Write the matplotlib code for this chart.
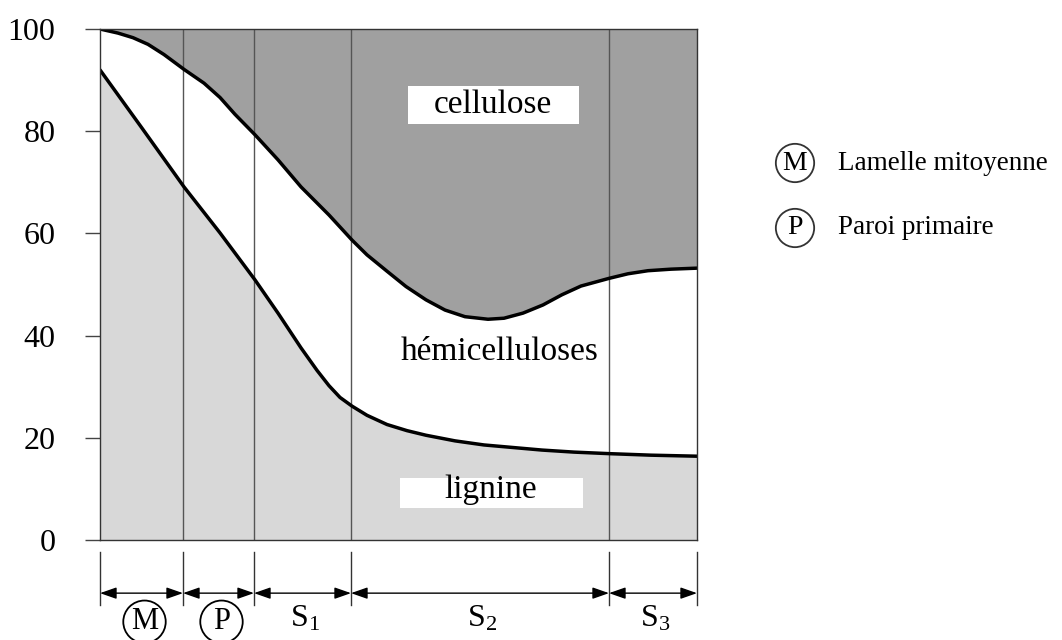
import matplotlib
matplotlib.use("Agg")
import matplotlib.pyplot as plt
from matplotlib.patches import Rectangle
from matplotlib.transforms import blended_transform_factory

plt.rcParams['font.family'] = ['Liberation Serif', 'DejaVu Serif']
plt.rcParams['mathtext.fontset'] = 'custom'
plt.rcParams['mathtext.rm'] = 'Liberation Serif'
plt.rcParams['mathtext.it'] = 'Liberation Serif:italic'

# Layer boundaries along the cell wall (arbitrary distance units)
boundaries = [0, 83, 154, 251, 509, 597]
layer_labels = ["M", "P", "S$_\\mathrm{1}$", "S$_\\mathrm{2}$", "S$_\\mathrm{3}$"]
circled = [True, True, False, False, False]

# Upper curve: lignine + hémicelluloses (top of white band)
upper_x = [0, 18, 33, 48, 64, 84, 104, 120, 135, 155, 178, 201, 229, 252, 267, 287,
           306, 326, 345, 365, 388, 404, 423, 443, 462, 481, 509, 528, 548, 571, 597]
upper_y = [100, 99.2, 98.3, 97.0, 95.0, 92.1, 89.4, 86.6, 83.3, 79.3, 74.4, 69.1, 63.6,
           58.7, 55.8, 52.6, 49.6, 47.0, 45.0, 43.7, 43.2, 43.4, 44.4, 46.0, 48.0, 49.7,
           51.2, 52.1, 52.7, 53.0, 53.2]

# Lower curve: lignine
lower_x = [0, 42, 84, 120, 155, 178, 201, 217, 229, 240, 252, 267, 287, 307, 326,
           355, 384, 442, 474, 509, 551, 597]
lower_y = [92, 80.6, 69.1, 60.1, 50.9, 44.4, 37.6, 33.2, 30.2, 27.9, 26.2, 24.4, 22.6,
           21.4, 20.5, 19.4, 18.6, 17.6, 17.2, 16.9, 16.6, 16.4]

yticks = [0, 20, 40, 60, 80, 100]

fig = plt.figure(figsize=(10.62, 6.40), dpi=100)
ax = fig.add_axes([100/1062, 100/640, 597/1062, 511/640])

# fills
ax.fill_between(upper_x, upper_y, 100, color="#a0a0a0", lw=0, zorder=1)
ax.fill_between(lower_x, 0, lower_y, color="#d8d8d8", lw=0, zorder=1)

# vertical layer lines inside the plot
for b in boundaries[1:-1]:
    ax.axvline(b, color="#555555", lw=1.0, zorder=2)

# curves
ax.plot(upper_x, upper_y, color="black", lw=2.5, zorder=4,
        solid_capstyle="round", solid_joinstyle="round")
ax.plot(lower_x, lower_y, color="black", lw=2.5, zorder=4,
        solid_capstyle="round", solid_joinstyle="round")

# labels in regions
ax.add_patch(Rectangle((308, 81.5), 171, 7.3, facecolor="white", edgecolor="none", zorder=5))
ax.text(393, 83.5, "cellulose", ha="center", va="baseline", fontsize=24, zorder=6)
ax.text(400, 35.2, "hémicelluloses", ha="center", va="baseline", fontsize=24, zorder=6)
ax.add_patch(Rectangle((300, 6.3), 183, 5.8, facecolor="white", edgecolor="none", zorder=5))
ax.text(391, 8.3, "lignine", ha="center", va="baseline", fontsize=24, zorder=6)

ax.set_xlim(boundaries[0], boundaries[-1])
ax.set_ylim(0, 100)
ax.set_yticks(yticks)
ax.set_yticklabels([str(t) for t in yticks], fontsize=23)
ax.tick_params(axis="y", length=11, width=1.0, pad=21, color="#444444")
ax.set_xticks([])
for s in ax.spines.values():
    s.set_linewidth(1.0)
    s.set_color("#333333")
    s.set_zorder(7)

# bottom layer annotation
tr = blended_transform_factory(ax.transData, ax.transAxes)
for b in boundaries:
    ax.plot([b, b], [-0.023, -0.128], color="#333333", lw=1.0, transform=tr, clip_on=False)
for i in range(len(boundaries) - 1):
    x0, x1 = boundaries[i], boundaries[i + 1]
    ax.annotate("", xy=(x1, -0.104), xytext=(x0, -0.104), xycoords=tr, textcoords=tr,
                arrowprops=dict(arrowstyle="<|-|>,head_length=1.0,head_width=0.35",
                                color="black", lw=1.0, shrinkA=0, shrinkB=0))
    xc = (x0 + x1) / 2
    if circled[i]:
        ax.text(xc + 3, -0.16, layer_labels[i], transform=tr, ha="center", va="center",
                fontsize=22, clip_on=False,
                bbox=dict(boxstyle="circle,pad=0.22", facecolor="white", edgecolor="black", lw=1.3))
    else:
        ax.text(xc + 2, -0.155, layer_labels[i], transform=tr, ha="center", va="center",
                fontsize=23, clip_on=False)

# side legend
legend_items = [("M", "Lamelle mitoyenne"), ("P", "Paroi primaire")]
legend_y = [1 - 163/640, 1 - 228/640]
for (sym, txt), yy in zip(legend_items, legend_y):
    fig.text(795/1062, yy, sym, ha="center", va="center", fontsize=20,
             bbox=dict(boxstyle="circle,pad=0.24", facecolor="white", edgecolor="#333333", lw=1.3))
    fig.text(838/1062, yy, txt, ha="left", va="center", fontsize=19.5)

fig.savefig("out.png", dpi=100)
